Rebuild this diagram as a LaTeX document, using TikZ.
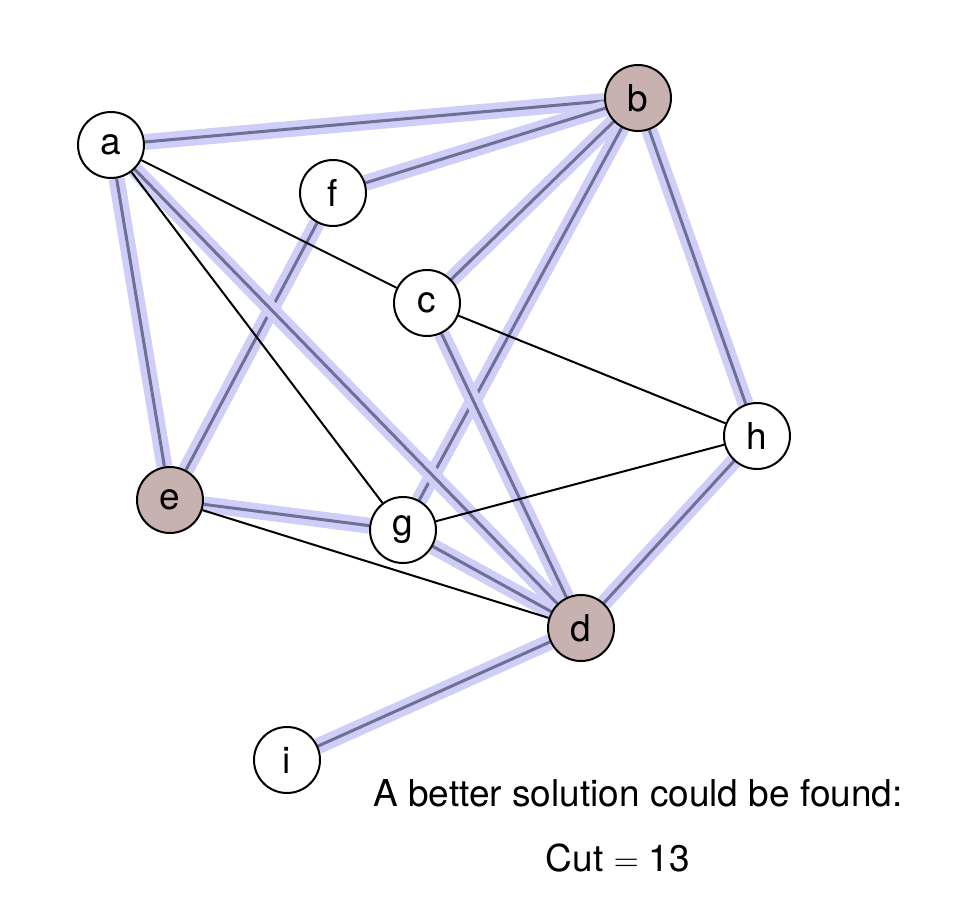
\documentclass[tikz,border=0pt]{standalone}
\usepackage{fontspec}
\setmainfont{TeX Gyre Heros}
\usetikzlibrary{backgrounds}
\definecolor{halo}{RGB}{206,206,248}
\definecolor{cutline}{RGB}{112,112,150}
\definecolor{side}{RGB}{200,178,176}
\tikzset{
  vtx/.style={circle,draw=black,line width=1pt,fill=#1,minimum size=33pt,inner sep=0pt,
    font=\fontsize{18.5}{22}\selectfont},
  vtx/.default=white,
  cut/.style={draw=cutline,line width=1.5pt,preaction={draw=halo,line width=8pt}},
  plain/.style={draw=black,line width=1pt},
  caption/.style={font=\fontsize{18.5}{22}\selectfont}
}
\begin{document}
\begin{tikzpicture}[x=0.5pt,y=0.5pt]
  \useasboundingbox (0,0) rectangle (966,912);
  % vertices
  \node[vtx] (a) at (111,767) {a};
  \node[vtx=side] (b) at (638,814) {b};
  \node[vtx] (f) at (333,719) {f};
  \node[vtx] (c) at (427,609) {c};
  \node[vtx] (h) at (757,476) {h};
  \node[vtx=side] (e) at (170,412) {e};
  \node[vtx] (g) at (403,382) {g};
  \node[vtx=side] (d) at (581,284) {d};
  \node[vtx] (i) at (287,152) {i};
  % edges
  \begin{scope}[on background layer]
    \foreach \u/\v in {a/b,f/b,c/b,g/b,h/b,a/e,f/e,g/e,a/d,g/d,c/d,h/d,i/d}
      \draw[cut] (\u) -- (\v);
    \foreach \u/\v in {a/c,a/g,c/h,g/h,e/d}
      \draw[plain] (\u) -- (\v);
  \end{scope}
  % result
  \node[caption] (msg) at (638,119) {A better solution could be found:};
  \node[caption] (cut) at (618,54) {Cut $=$ 13};
\end{tikzpicture}
\end{document}
